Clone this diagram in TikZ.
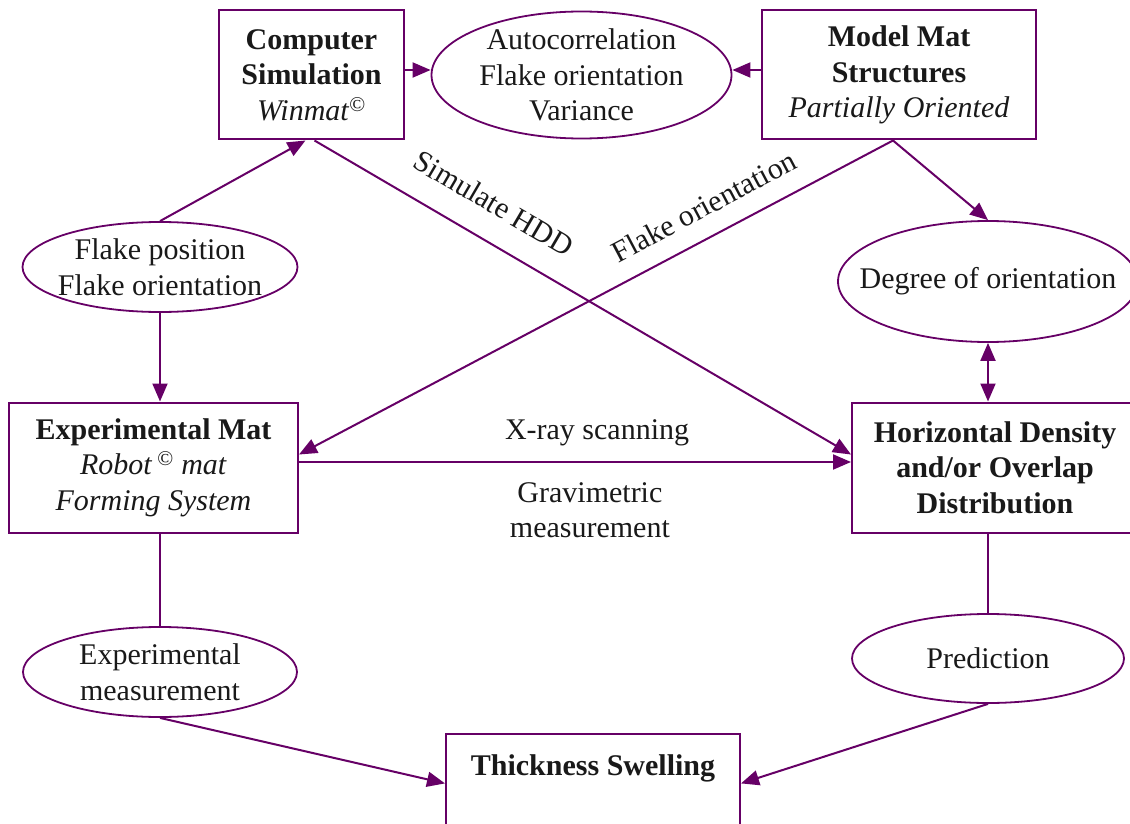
\documentclass[tikz,border=0pt]{standalone}
\usepackage{fontspec}
\setmainfont{Liberation Serif}
\usepackage{xcolor}
\usepackage{tikz}
\usetikzlibrary{arrows.meta,positioning,shapes.geometric,calc}
\definecolor{matpurple}{RGB}{102,0,102}

\begin{document}
\begin{tikzpicture}[
x=1pt,
y=-1pt,
every node/.style={font=\fontsize{30}{35.5}\selectfont,text=black!90},
matbox/.style={rectangle,draw=matpurple,line width=2pt,align=center,inner sep=0pt},
matoval/.style={ellipse,draw=matpurple,line width=1.8pt,align=center,inner xsep=-40pt,inner ysep=-14pt},
matarr/.style={-{Triangle[length=18pt,width=15pt]},draw=matpurple,line width=2pt},
matboth/.style={{Triangle[length=18pt,width=15pt]}-{Triangle[length=18pt,width=15pt]},draw=matpurple,line width=2pt},
matline/.style={draw=matpurple,line width=2pt},
matlbl/.style={inner sep=0pt,align=center}
]
\useasboundingbox (0,0) rectangle (1130,824);

\node[matbox,minimum width=185,minimum height=129] (cs) at (311.5,75) {\textbf{Computer}\\\textbf{Simulation}\\\textit{Winmat}\textsuperscript{©}};
\node[matoval,minimum width=300,minimum height=127] (ac) at (581.5,75) {Autocorrelation\\Flake orientation\\Variance};
\node[matbox,minimum width=274,minimum height=129] (mm) at (899,75) {\textbf{Model Mat}\\\textbf{Structures}\\\textit{Partially Oriented}};

\node[matoval,minimum width=275,minimum height=90] (fp) at (160,267) {Flake position\\Flake orientation};
\node[matoval,minimum width=300,minimum height=121] (deg) at (988,281.5) {Degree of orientation};

\node[matbox,minimum width=289,minimum height=130] (xm) at (153.5,467.5) {\textbf{Experimental Mat}\\\textit{Robot}\,\textsuperscript{©}\textit{ mat}\\\textit{Forming System}};
\node[matbox,minimum width=286,minimum height=130] (hd) at (995,467.5) {\textbf{Horizontal Density}\\\textbf{and/or Overlap}\\\textbf{Distribution}};

\node[matoval,minimum width=274,minimum height=90] (em) at (160,672) {Experimental\\measurement};
\node[matoval,minimum width=272,minimum height=89] (pr) at (988,658.5) {Prediction};
\node[matbox,anchor=north,minimum width=294,inner ysep=21pt,text depth=36pt] (ts) at (593,733) {\textbf{Thickness Swelling}};

\draw[matarr] ([yshift=5pt]cs.east) -- ([yshift=5pt]ac.west);
\draw[matarr] ([yshift=5pt]mm.west) -- ([yshift=5pt]ac.east);
\draw[matarr] (fp.north) -- ([xshift=-6pt]cs.south);
\draw[matarr] ([xshift=3pt]cs.south) -- node[matlbl,sloped,above=25pt,pos=.30]{Simulate HDD} ([yshift=13pt]hd.west);
\draw[matarr] ([xshift=-6pt]mm.south) -- node[matlbl,sloped,above=18.5pt,pos=.295]{Flake orientation} ([yshift=13pt]xm.east);
\draw[matarr] ([xshift=-6pt]mm.south) -- (deg.north);
\draw[matboth] (deg.south) -- (deg.south |- hd.north);
\draw[matarr] (fp.south) -- (fp.south |- xm.north);
\draw[matarr] ([yshift=5.5pt]xm.east) -- node[matlbl,above=15pt,pos=.54]{X-ray scanning} node[matlbl,below=19.5pt,pos=.527]{Gravimetric\\measurement} ([yshift=5.5pt]hd.west);
\draw[matline] (em.north |- xm.south) -- (em.north);
\draw[matline] (pr.north |- hd.south) -- (pr.north);
\draw[matarr] (em.south) -- (ts.west);
\draw[matarr] (pr.south) -- (ts.east);
\end{tikzpicture}
\end{document}
